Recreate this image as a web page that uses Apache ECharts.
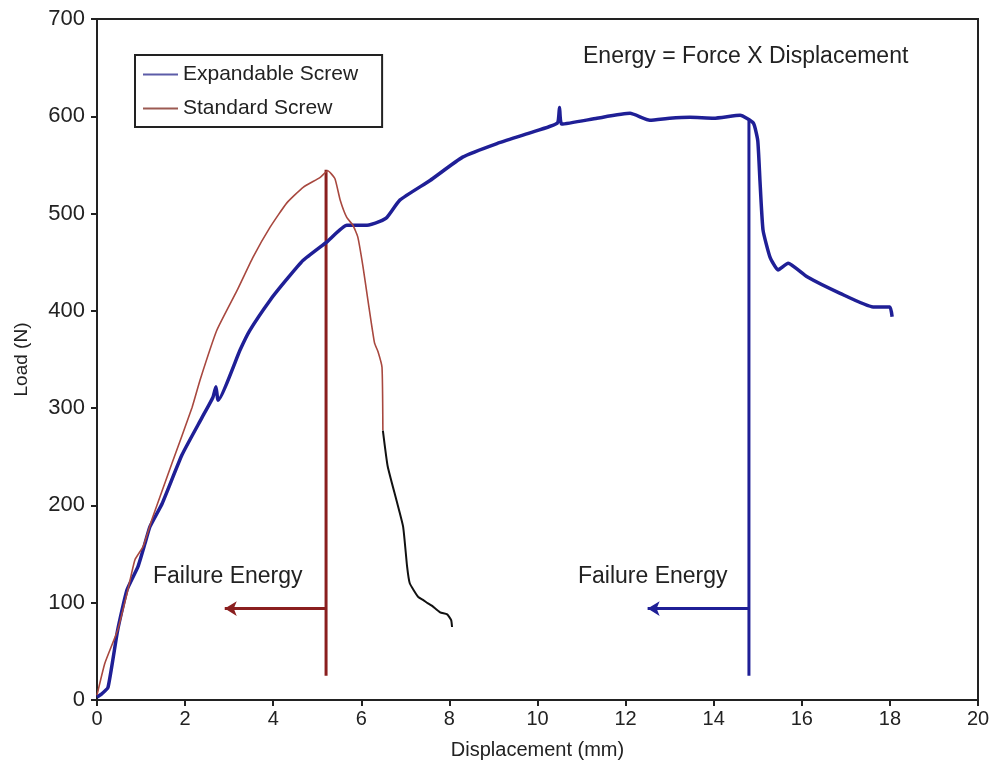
<!DOCTYPE html>
<html><head><meta charset="utf-8">
<script src="https://cdn.jsdelivr.net/npm/echarts@6/dist/echarts.min.js"></script>
<style>html,body{margin:0;padding:0;background:#fff}#c{width:997px;height:775px}</style>
</head><body><div id="c"></div>
<script>
// Expandable screw (blue)
var expX = [0,0.1,0.25,0.47,0.68,0.93,1.09,1.2,1.48,1.93,2.38,2.63,2.7,2.75,3.25,3.47,3.93,4.3,4.68,5.22,5.67,6.13,6.42,6.58,6.88,7.56,8.3,9.08,9.83,10.45,10.5,10.55,11.35,12.1,12.55,13.0,13.46,14.0,14.6,14.9,15.0,15.05,15.12,15.28,15.46,15.69,16.12,16.87,17.62,18.0,18.05];
var expY = [3,6,13,72,113,137,161,178,202,252,290,311,322,308,360,380,411,432,452,471,488,488,492,496,514,534,558,572,583,593,609,592,598,603,596,598,599,598,601,593,575,534,483,455,442,449,435,418,404,404,394];
// Standard screw (red-brown part)
var stdX = [0,0.18,0.47,0.7,0.86,1.05,1.25,1.7,2.16,2.34,2.72,3.18,3.54,3.93,4.31,4.68,5.06,5.24,5.4,5.52,5.67,5.81,5.92,6.04,6.15,6.3,6.38,6.47,6.49];
var stdY = [5,38,72,113,144,158,186,243,301,329,380,421,455,486,511,527,537,544,536,514,496,488,476,445,411,367,358,342,277];
// Standard screw tail (drawn black)
var tailX = [6.49,6.6,6.8,6.95,7.04,7.1,7.29,7.4,7.49,7.6,7.79,7.95,8.04,8.06];
var tailY = [277,240,205,178,137,120,106,103,100,97,90,88,82,75];
// Failure energy markers
var stdFail = {x: 5.2, yBottom: 25, yTop: 545, arrowY: 94, arrowTo: 2.9};
var expFail = {x: 14.8, yBottom: 25, yTop: 596, arrowY: 94, arrowTo: 12.5};
var xTicks = {min: 0, max: 20, interval: 2};
var yTicks = {min: 0, max: 700, interval: 100};

function zip(a, b) { return a.map(function (v, i) { return [v, b[i]]; }); }
var FONT = 'Liberation Sans, Arial, sans-serif';
var RED = '#8a1f1f', BLUE = '#1f1f96';

function failSeries(f, color) {
  return {
    type: 'line', silent: true, symbol: 'none', z: 1,
    data: [[f.x, f.yBottom], [f.x, f.yTop]],
    lineStyle: {color: color, width: 3},
    markLine: {
      silent: true, symbol: ['none', 'arrow'], symbolSize: [11, 12],
      label: {show: false},
      lineStyle: {color: color, width: 3, type: 'solid'},
      data: [[{coord: [f.x, f.arrowY]}, {coord: [f.arrowTo, f.arrowY]}]]
    }
  };
}

var chart = echarts.init(document.getElementById('c'));
chart.setOption({
  animation: false,
  backgroundColor: '#fff',
  grid: {left: 97, right: 19, top: 19, bottom: 75, show: true, borderColor: '#222', borderWidth: 2},
  xAxis: {
    type: 'value', min: xTicks.min, max: xTicks.max, interval: xTicks.interval,
    name: 'Displacement (mm)', nameLocation: 'middle', nameGap: 40,
    nameTextStyle: {fontFamily: FONT, fontSize: 20, color: '#222'},
    axisLine: {lineStyle: {color: '#222', width: 2}},
    axisTick: {show: true, length: 6, lineStyle: {color: '#222', width: 2}},
    axisLabel: {fontFamily: FONT, fontSize: 20, color: '#222', margin: 9},
    splitLine: {show: false}
  },
  yAxis: {
    type: 'value', min: yTicks.min, max: yTicks.max, interval: yTicks.interval,
    name: 'Load (N)', nameLocation: 'middle', nameGap: 66,
    nameTextStyle: {fontFamily: FONT, fontSize: 19, color: '#222'},
    axisLine: {show: true, lineStyle: {color: '#222', width: 2}},
    axisTick: {show: true, length: 6, lineStyle: {color: '#222', width: 2}},
    axisLabel: {fontFamily: FONT, fontSize: 22, color: '#222', margin: 12},
    splitLine: {show: false}
  },
  legend: {
    left: 135, top: 55, orient: 'vertical',
    data: [
      {name: 'Expandable Screw', itemStyle: {color: '#5c5ca8'}},
      {name: 'Standard Screw', itemStyle: {color: '#9c5a52'}}
    ],
    icon: 'rect', itemWidth: 35, itemHeight: 2, itemGap: 13,
    padding: [9, 24, 8, 8],
    borderColor: '#222', borderWidth: 2,
    textStyle: {fontFamily: FONT, fontSize: 21, color: '#222'}
  },
  series: [
    failSeries(stdFail, RED),
    failSeries(expFail, BLUE),
    {name: 'Expandable Screw', type: 'line', symbol: 'none', z: 3, smooth: 0.15,
     data: zip(expX, expY), lineStyle: {color: BLUE, width: 3.5}, itemStyle: {color: BLUE}},
    {name: 'Standard Screw', type: 'line', symbol: 'none', z: 4, smooth: 0.15,
     data: zip(stdX, stdY), lineStyle: {color: '#a8483f', width: 1.6}, itemStyle: {color: '#a8483f'}},
    {name: 'tail', type: 'line', symbol: 'none', z: 4, smooth: 0.15,
     data: zip(tailX, tailY), lineStyle: {color: '#111', width: 2}}
  ],
  graphic: [
    {type: 'text', left: 583, top: 45, style: {text: 'Energy = Force X Displacement', font: '23px ' + FONT, fill: '#222'}},
    {type: 'text', left: 153, top: 565, style: {text: 'Failure Energy', font: '23px ' + FONT, fill: '#222'}},
    {type: 'text', left: 578, top: 565, style: {text: 'Failure Energy', font: '23px ' + FONT, fill: '#222'}}
  ]
});
</script></body></html>
